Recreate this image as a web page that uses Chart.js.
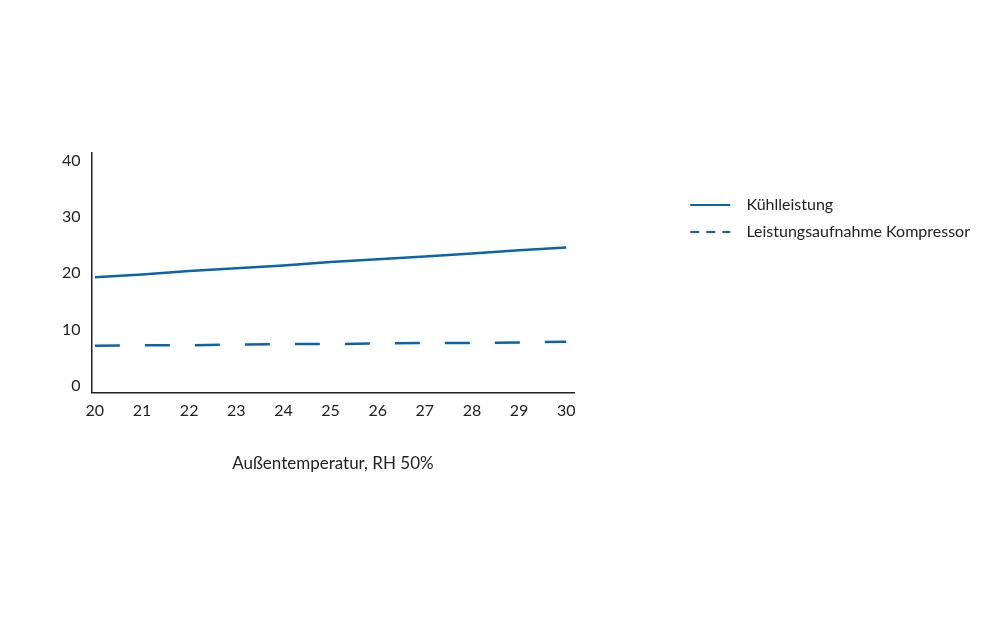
<!DOCTYPE html>
<html lang="de">
<head>
<meta charset="utf-8">
<title>Kühlleistung</title>
<script src="https://cdn.jsdelivr.net/npm/chart.js@4.4.1/dist/chart.umd.min.js"></script>
<style>
  html, body { margin: 0; padding: 0; background: #fff; }
  #wrap { width: 990px; height: 627px; }
</style>
</head>
<body>
<div id="wrap"><canvas id="chart" width="990" height="627"></canvas></div>
<script>
// chart values
const temperatures = [20, 21, 22, 23, 24, 25, 26, 27, 28, 29, 30];
const kuehlleistung = [19.3, 19.8, 20.4, 20.9, 21.4, 22.0, 22.5, 23.0, 23.5, 24.1, 24.6];
const leistungsaufnahme = [7.1, 7.2, 7.2, 7.3, 7.4, 7.4, 7.5, 7.6, 7.6, 7.7, 7.8];
const yTicks = [0, 10, 20, 30, 40];
const seriesNames = ["Kühlleistung", "Leistungsaufnahme Kompressor"];
const xTitle = "Außentemperatur, RH 50%";

const blue = "#0b64a6";
const ink = "#222222";
const font = { family: "Lato, 'Noto Sans', sans-serif", size: 16 };

function toPoints(values) {
  return temperatures.map((t, i) => ({ x: t, y: values[i] }));
}

const ctx = document.getElementById("chart").getContext("2d");
new Chart(ctx, {
  type: "line",
  data: {
    datasets: [
      { label: seriesNames[0], data: toPoints(kuehlleistung), borderColor: blue, backgroundColor: blue, borderWidth: 2.5, pointRadius: 0, tension: 0 },
      { label: seriesNames[1], data: toPoints(leistungsaufnahme), borderColor: blue, backgroundColor: blue, borderWidth: 2.5, borderDash: [25, 25], pointRadius: 0, tension: 0 }
    ]
  },
  options: {
    responsive: false,
    animation: false,
    layout: { padding: { left: 51, top: 153, right: 10, bottom: 153 } },
    plugins: {
      tooltip: { enabled: false },
      legend: {
        position: "right",
        align: "start",
        fullSize: false,
        maxWidth: 320,
        title: { display: true, text: "", padding: { top: 21, bottom: 0 }, font: { size: 10 } },
        labels: {
          color: ink,
          font: font,
          padding: 11,
          usePointStyle: true,
          pointStyle: "line",
          pointStyleWidth: 40,
          generateLabels(chart) {
            const items = Chart.defaults.plugins.legend.labels.generateLabels(chart);
            return items.map((item, i) => Object.assign(item, {
              text: "  " + item.text,
              lineWidth: 2,
              lineDash: i === 1 ? [9, 7] : [],
              pointStyle: "line"
            }));
          }
        }
      }
    },
    scales: {
      x: {
        type: "linear",
        min: 19.93,
        max: 30.17,
        afterBuildTicks(scale) { scale.ticks = temperatures.map(v => ({ value: v })); },
        grid: { display: false, drawTicks: false },
        border: { display: true, color: ink, width: 1.5 },
        ticks: { color: ink, font: font, padding: 9, maxRotation: 0 },
        title: { display: true, text: xTitle, color: ink, font: { family: font.family, size: 17 }, padding: { top: 24, bottom: 0 } }
      },
      y: {
        type: "linear",
        min: -1.2,
        max: 41.4,
        afterBuildTicks(scale) { scale.ticks = yTicks.map(v => ({ value: v })); },
        grid: { display: false, drawTicks: false },
        border: { display: true, color: ink, width: 1.5 },
        ticks: { color: ink, font: font, padding: 11 }
      },
      gap: {
        type: "linear",
        position: "right",
        display: true,
        grid: { display: false, drawTicks: false },
        border: { display: false },
        ticks: { display: false },
        afterFit(scale) { scale.width = 105; }
      }
    }
  }
});
</script>
</body>
</html>
